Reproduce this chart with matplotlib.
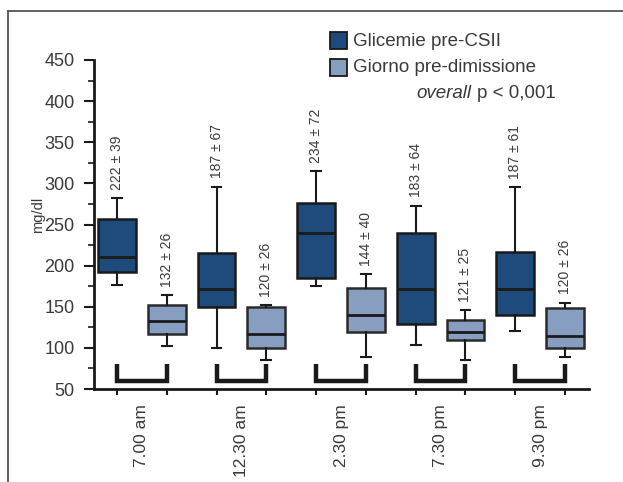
import matplotlib
matplotlib.use("Agg")
import matplotlib.pyplot as plt
from matplotlib.patches import Rectangle
from matplotlib.lines import Line2D
from matplotlib.ticker import MultipleLocator

plt.rcParams["font.family"] = ["Liberation Sans", "DejaVu Sans"]

# ─── Data ────────────────────────────────────────────────────────────────────
times = ["7.00 am", "12.30 am", "2.30 pm", "7.30 pm", "9.30 pm"]

# Glicemie pre-CSII
pre_lo  = [177, 100, 175, 104, 121]
pre_q1  = [192, 150, 185, 129, 140]
pre_med = [211, 171, 240, 171, 171]
pre_q3  = [257, 215, 276, 240, 217]
pre_hi  = [282, 296, 315, 273, 295]
pre_lab = ["222 ± 39", "187 ± 67", "234 ± 72", "183 ± 64", "187 ± 61"]

# Giorno pre-dimissione
post_lo  = [102, 85, 89, 85, 89]
post_q1  = [117, 100, 119, 109, 100]
post_med = [133, 117, 140, 119, 114]
post_q3  = [152, 150, 173, 134, 148]
post_hi  = [164, 152, 190, 146, 155]
post_lab = ["132 ± 26", "120 ± 26", "144 ± 40", "121 ± 25", "120 ± 26"]

DARK  = "#1e4a7c"
LIGHT = "#879ec1"
INK   = "#1a1a1a"
TXT   = "#3a3a3a"


def stats(lo, q1, med, q3, hi):
    return [dict(whislo=a, q1=b, med=c, q3=d, whishi=e, fliers=[])
            for a, b, c, d, e in zip(lo, q1, med, q3, hi)]


fig = plt.figure(figsize=(6.23, 4.82), dpi=100)
ax = fig.add_axes([94 / 623, 1 - 389 / 482, 495 / 623, 329 / 482])

pos_pre  = [1 + 2 * i for i in range(len(times))]
pos_post = [2 + 2 * i for i in range(len(times))]

common = dict(widths=0.76, patch_artist=True, showfliers=False,
              capwidths=0.2,
              whiskerprops=dict(color=INK, lw=1.5),
              capprops=dict(color=INK, lw=1.5),
              medianprops=dict(color=INK, lw=2))
ax.bxp(stats(pre_lo, pre_q1, pre_med, pre_q3, pre_hi), positions=pos_pre,
       boxprops=dict(facecolor=DARK, edgecolor=INK, lw=1.8), **common)
ax.bxp(stats(post_lo, post_q1, post_med, post_q3, post_hi), positions=pos_post,
       boxprops=dict(facecolor=LIGHT, edgecolor="#2a2a2a", lw=1.8), **common)

# value labels above whiskers
for p, hi, lab in zip(pos_pre + pos_post, pre_hi + post_hi, pre_lab + post_lab):
    ax.annotate(lab, (p, hi), xytext=(0, 6), textcoords="offset points",
                rotation=90, ha="center", va="bottom", fontsize=10, color=TXT)

# brackets under each pair
for a, b in zip(pos_pre, pos_post):
    ax.plot([a, a, b, b], [80, 60, 60, 80], color=INK, lw=3.2,
            solid_joinstyle="miter", solid_capstyle="butt")

ax.set_xlim(0.54, 10.48)
ax.set_ylim(50, 450)
ax.yaxis.set_major_locator(MultipleLocator(50))
ax.yaxis.set_minor_locator(MultipleLocator(25))
ax.set_xticks(pos_pre + pos_post)
ax.set_xticklabels([])
ax.set_xticks([p + 0.5 for p in pos_pre], minor=True)
ax.set_xticklabels(times, minor=True, rotation=90, fontsize=12.5, color=TXT,
                   va="top")
ax.tick_params(axis="x", which="major", length=4, width=1.5, color=INK)
ax.tick_params(axis="x", which="minor", length=0, pad=11)
ax.tick_params(axis="y", which="major", length=7, width=1.5, color=INK,
               labelsize=13, labelcolor=TXT, pad=7)
ax.tick_params(axis="y", which="minor", length=4, width=1.2, color=INK)

for s in ["top", "right"]:
    ax.spines[s].set_visible(False)
for s in ["left", "bottom"]:
    ax.spines[s].set_linewidth(2)
    ax.spines[s].set_color(INK)

fig.text(38 / 623, 1 - 215 / 482, "mg/dl", rotation=90, ha="center",
         va="center", fontsize=10.5, color=TXT)

# legend
for y, col, lab in [(32, DARK, "Glicemie pre-CSII"), (59, LIGHT, "Giorno pre-dimissione")]:
    fig.patches.append(Rectangle((330 / 623, 1 - (y + 17) / 482), 17 / 623, 17 / 482,
                                 transform=fig.transFigure, facecolor=col,
                                 edgecolor=INK, lw=1.3))
    fig.text(353 / 623, 1 - (y + 9) / 482, lab, ha="left", va="center",
             fontsize=13.5, color=TXT)
ptxt = fig.text(556 / 623, 1 - 93 / 482, "p < 0,001", ha="right", va="center",
                fontsize=13.5, color=TXT)
fig.text(0, 0, "")
ax.annotate("overall", xy=(0, 0.5), xycoords=ptxt, xytext=(-4, 0),
            textcoords="offset points", style="italic", ha="right",
            va="center", fontsize=13.5, color=TXT, annotation_clip=False)

# frame lines (top and left)
fig.lines.append(Line2D([8 / 623, 1], [1 - 11 / 482] * 2, transform=fig.transFigure,
                        color="#555555", lw=1.3))
fig.lines.append(Line2D([8 / 623] * 2, [0, 1 - 11 / 482], transform=fig.transFigure,
                        color="#555555", lw=1.3))

fig.savefig("out.png", dpi=100)
